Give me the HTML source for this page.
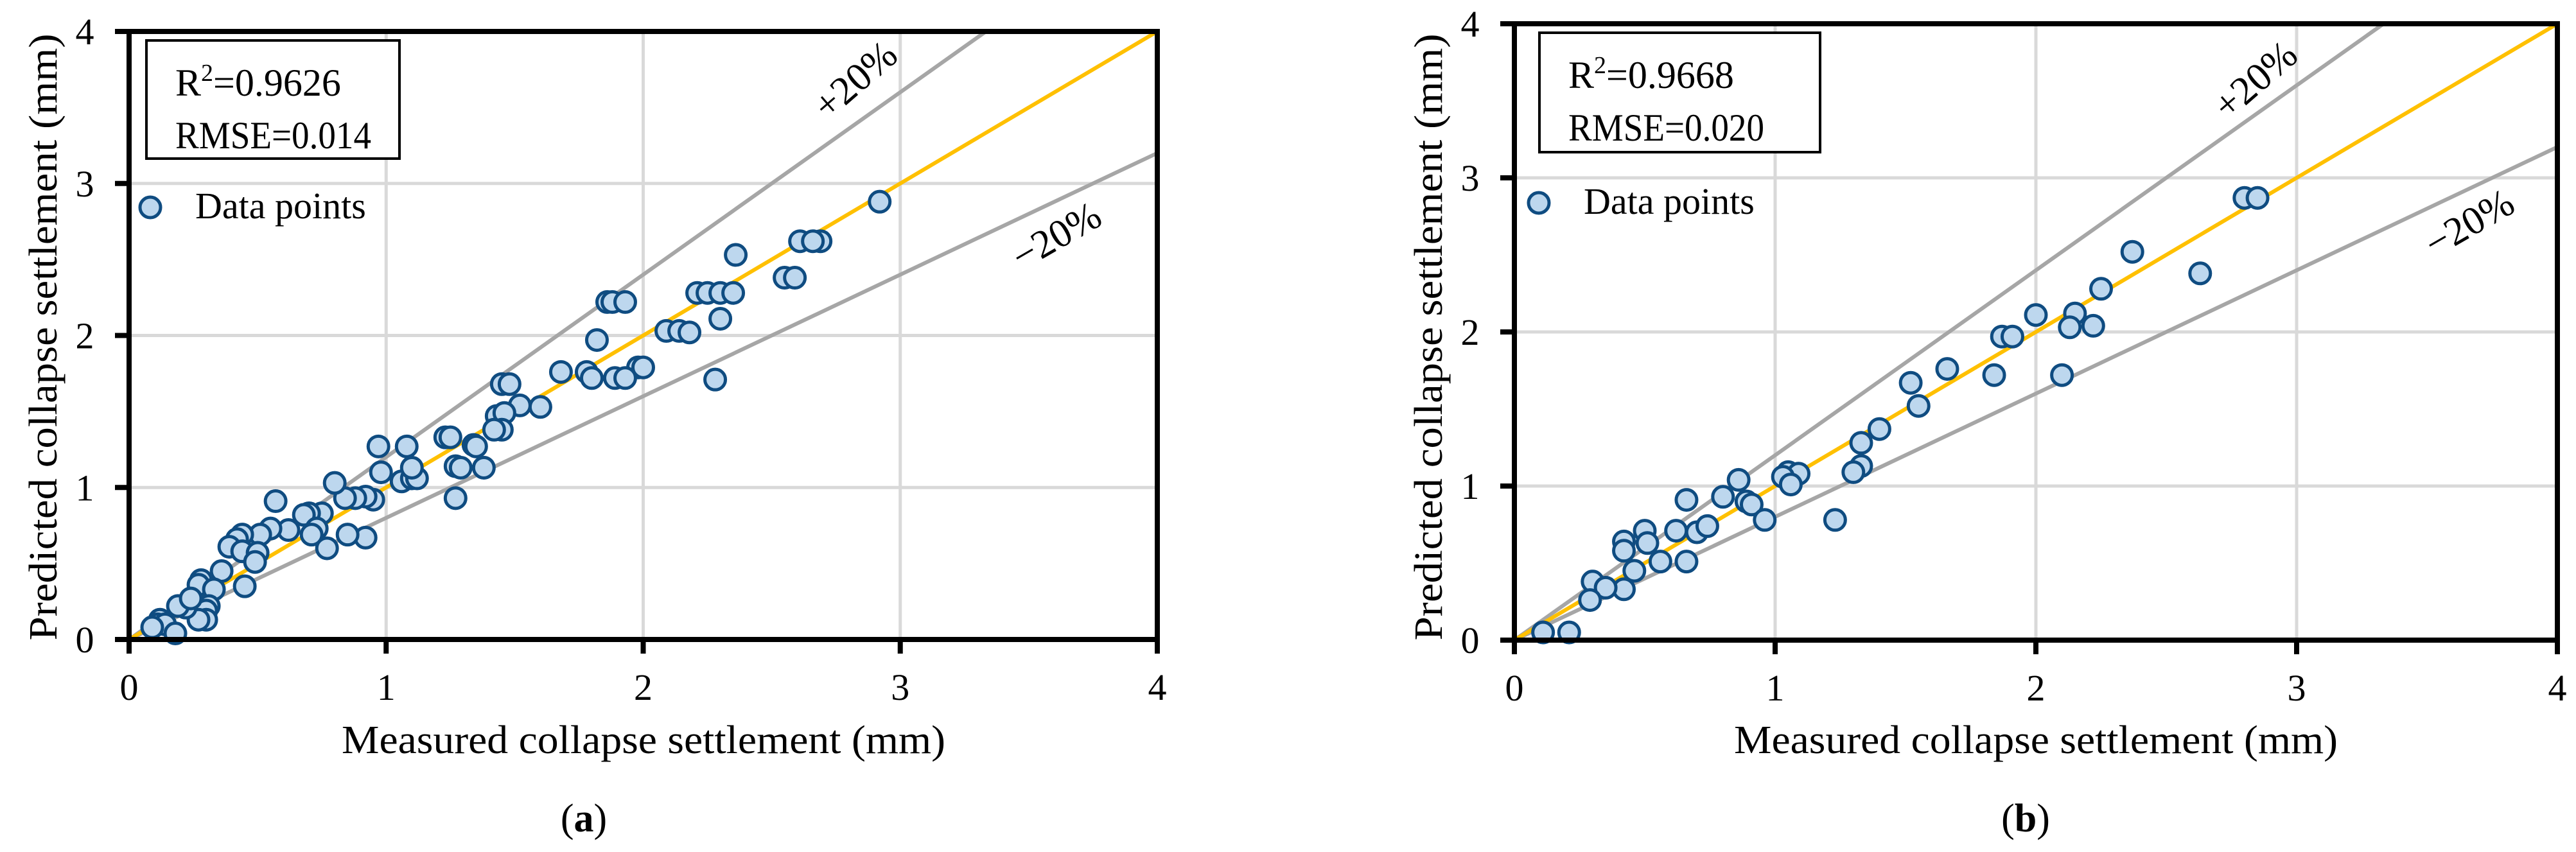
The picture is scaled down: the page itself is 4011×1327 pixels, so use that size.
<!DOCTYPE html>
<html><head><meta charset="utf-8"><title>Measured vs predicted collapse settlement</title>
<style>
html,body{margin:0;padding:0;background:#fff;}
svg{display:block;font-family:"Liberation Serif",serif;}
</style></head>
<body>
<svg id="fig" xmlns="http://www.w3.org/2000/svg" width="4011" height="1327" viewBox="0 0 4011 1327"></svg>
<script>
// ---- data ----
const ticks = [0, 1, 2, 3, 4];
const tickLabels = ["0", "1", "2", "3", "4"];
const aMeasured = [2.92,2.61,2.69,2.66,2.36,2.55,2.59,2.21,2.25,2.30,2.35,2.30,2.28,1.86,1.88,1.93,1.82,2.09,2.14,2.18,1.98,2.00,1.68,1.78,1.80,1.89,1.93,1.45,1.48,1.60,1.52,1.43,1.46,1.45,1.42,1.23,1.25,1.34,1.35,1.38,1.27,1.29,1.27,0.97,1.08,0.98,1.06,1.10,1.12,1.10,0.95,0.92,0.88,0.84,0.80,0.57,0.92,0.85,0.77,0.75,0.70,0.68,0.73,0.71,0.62,0.55,0.51,0.44,0.42,0.39,0.44,0.50,0.49,0.45,0.36,0.28,0.27,0.33,0.31,0.30,0.30,0.27,0.22,0.19,0.12,0.11,0.14,0.18,0.09,0.24];
const aPredicted = [2.88,2.62,2.62,2.62,2.53,2.38,2.38,2.28,2.28,2.28,2.28,2.11,1.71,2.22,2.22,2.22,1.97,2.03,2.03,2.02,1.79,1.79,1.76,1.76,1.72,1.72,1.72,1.68,1.68,1.53,1.54,1.47,1.49,1.38,1.38,1.33,1.33,1.28,1.27,1.13,1.14,1.13,0.93,1.27,1.27,1.10,1.04,1.06,1.06,1.13,0.92,0.94,0.93,0.93,1.03,0.91,0.67,0.69,0.60,0.83,0.83,0.82,0.73,0.69,0.72,0.73,0.69,0.69,0.66,0.61,0.58,0.57,0.51,0.35,0.45,0.39,0.36,0.33,0.22,0.19,0.13,0.13,0.21,0.22,0.13,0.10,0.10,0.04,0.08,0.27];
const bMeasured = [2.80,2.85,2.37,2.63,2.25,2.00,2.15,2.13,2.22,1.87,1.91,1.66,1.84,2.10,1.52,1.55,1.40,1.33,1.33,1.30,1.23,1.05,1.09,1.03,1.06,0.86,0.80,0.89,0.91,0.96,0.66,0.62,0.70,0.74,0.50,0.51,0.42,0.42,0.66,0.56,0.46,0.30,0.42,0.35,0.29,0.11,0.21];
const bPredicted = [2.87,2.87,2.52,2.38,2.28,2.11,2.12,2.03,2.04,1.97,1.97,1.76,1.72,1.72,1.67,1.52,1.37,1.28,1.13,1.09,0.78,1.09,1.08,1.06,1.01,1.04,0.93,0.90,0.88,0.78,0.91,0.71,0.70,0.74,0.71,0.63,0.64,0.58,0.51,0.51,0.45,0.38,0.33,0.34,0.26,0.05,0.05];
const bandFactors = [1.2, 0.8];

const NS = "http://www.w3.org/2000/svg";
const svg = document.getElementById("fig");
function mk(tag, attrs, parent, text) {
  const e = document.createElementNS(NS, tag);
  for (const k in attrs) e.setAttribute(k, attrs[k]);
  if (text !== undefined) e.textContent = text;
  (parent || svg).appendChild(e);
  return e;
}

function panel(cfg) {
  const g = mk("g", {});
  
  
  const sx = v => cfg.x0 + (cfg.x4 - cfg.x0) * v / 4;
  const sy = v => cfg.y0 - (cfg.y0 - cfg.y4) * v / 4;

  ticks.forEach(t => {
    if (t > 0 && t < 4) {
      const gv = mk("line", {x1: sx(t), x2: sx(t), y1: sy(0), y2: sy(4), stroke: "#d9d9d9", "stroke-width": 5}, g);
      
      
      const gh = mk("line", {x1: sx(0), x2: sx(4), y1: sy(t), y2: sy(t), stroke: "#d9d9d9", "stroke-width": 5}, g);
      
      
    }
  });

  bandFactors.forEach((f, i) => {
    const xe = Math.min(4, 4 / f);
    const l = mk("line", {x1: sx(0), y1: sy(0), x2: sx(xe), y2: sy(xe * f), stroke: "#a6a6a6", "stroke-width": 6}, g);
    
    
  });
  const ref = mk("line", {x1: sx(0), y1: sy(0), x2: sx(4), y2: sy(4), stroke: "#ffc000", "stroke-width": 6}, g);
  
  

  cfg.xs.forEach((v, i) => {
    const c = mk("circle", {cx: sx(v), cy: sy(cfg.ys[i]), r: 16, fill: "#bdd7ee", stroke: "#0f4c81", "stroke-width": 5}, g);
    
    
  });

  const fr = mk("rect", {x: sx(0), y: sy(4), width: sx(4) - sx(0), height: sy(0) - sy(4), fill: "none", stroke: "#000", "stroke-width": 8}, g);
  
  

  ticks.forEach((t, i) => {
    const tx = mk("line", {x1: sx(t), x2: sx(t), y1: sy(0), y2: sy(0) + 22, stroke: "#000", "stroke-width": 8}, g);
    
    
    const lx = mk("text", {x: sx(t), y: cfg.y0 + 94, "font-size": 58, "text-anchor": "middle"}, g, tickLabels[i]);
    
    
    const ty = mk("line", {x1: sx(0) - 22, x2: sx(0), y1: sy(t), y2: sy(t), stroke: "#000", "stroke-width": 8}, g);
    
    
    const ly = mk("text", {x: cfg.x0 - 69, y: sy(t) + 20, "font-size": 58, "text-anchor": "middle"}, g, tickLabels[i]);
    
    
  });

  const xt = mk("text", {x: cfg.xTitleX, y: 1173, "font-size": 62, "text-anchor": "middle", textLength: 940, lengthAdjust: "spacingAndGlyphs"}, g, "Measured collapse settlement (mm)");
  
  
  const yt = mk("text", {x: 0, y: 0, "font-size": 62, "text-anchor": "middle", textLength: 945, lengthAdjust: "spacingAndGlyphs", transform: "translate(" + (cfg.x0 - 113) + ",525) rotate(-90)"}, g, "Predicted collapse settlement (mm)");
  
  

  const bx = mk("rect", {x: cfg.box[0], y: cfg.box[1], width: cfg.box[2], height: cfg.box[3], fill: "#fff", stroke: "#000", "stroke-width": 4}, g);
  
  
  const r2 = mk("text", {x: cfg.box[0] + 45, y: cfg.box[1] + 86, "font-size": 60}, g);
  
  
  mk("tspan", {}, r2, "R");
  mk("tspan", {"font-size": 38, dy: -23}, r2, "2");
  mk("tspan", {dy: 23}, r2, "=" + cfg.r2);
  const rm = mk("text", {x: cfg.box[0] + 45, y: cfg.box[1] + 168, "font-size": 60, textLength: 305, lengthAdjust: "spacingAndGlyphs"}, g, "RMSE=" + cfg.rmse);
  
  

  const lm = mk("circle", {cx: cfg.leg[0], cy: cfg.leg[1], r: 16, fill: "#bdd7ee", stroke: "#0f4c81", "stroke-width": 5}, g);
  
  
  const lt = mk("text", {x: cfg.leg[0] + 70, y: cfg.leg[1] + 17, "font-size": 58}, g, "Data points");
  
  

  const p = mk("text", {x: 0, y: 0, "font-size": 62, "text-anchor": "middle", transform: "translate(" + cfg.plus[0] + "," + cfg.plus[1] + ") rotate(-41)"}, g, "+20%");
  
  
  const m = mk("text", {x: 0, y: 0, "font-size": 62, "text-anchor": "middle", transform: "translate(" + cfg.minus[0] + "," + cfg.minus[1] + ") rotate(-30)"}, g, "\u221220%");
  
  

  const cap = mk("text", {x: cfg.capX, y: 1295, "font-size": 62, "text-anchor": "middle"}, g);
  
  
  mk("tspan", {}, cap, "(");
  mk("tspan", {"font-weight": "bold"}, cap, cfg.letter);
  mk("tspan", {}, cap, ")");
}

panel({name: "panel-a", x0: 201, x4: 1802, y0: 996, y4: 49, xs: aMeasured, ys: aPredicted,
  xTitleX: 1002, box: [228, 63, 394, 184], r2: "0.9626", rmse: "0.014", leg: [234, 323],
  plus: [1345, 140], minus: [1655, 385], capX: 909, letter: "a"});
panel({name: "panel-b", x0: 2358, x4: 3982, y0: 997, y4: 37, xs: bMeasured, ys: bPredicted,
  xTitleX: 3170, box: [2397, 51, 437, 186], r2: "0.9668", rmse: "0.020", leg: [2396, 316],
  plus: [3525, 140], minus: [3855, 365], capX: 3154, letter: "b"});
</script>
</body></html>
